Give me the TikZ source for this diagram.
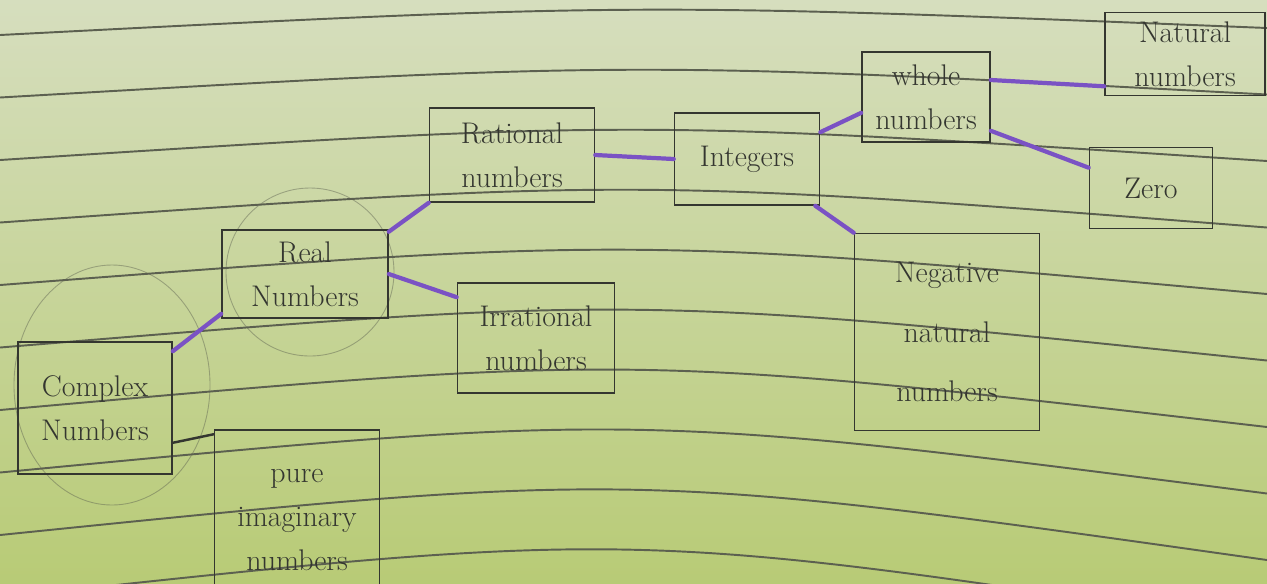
\documentclass[tikz,border=0pt]{standalone}
\usepackage{tikz}
\usetikzlibrary{positioning, calc}
\usepackage{xcolor}
\definecolor{pgTop}   {RGB}{214, 222, 190}
\definecolor{pgLow}   {RGB}{184, 203, 118}
\definecolor{pgRule}  {RGB}{92,  96,  80}
\definecolor{penDark} {RGB}{52,  54,  48}
\definecolor{penPurp} {RGB}{122, 82,  196}

\begin{document}
\begin{tikzpicture}[
  x=0.02cm, y=-0.02cm,
  box/.style = {
    rectangle, draw=penDark, line width=0.9pt,
    align=center, text=penDark,
    font=\fontsize{17}{25}\selectfont
  },
  link/.style = {line width=2.4pt, penPurp, line cap=round},
  rule/.style = {line width=1.1pt, pgRule},
  pencil/.style = {line width=0.5pt, pgRule, opacity=0.45}
]
  % paper
  \shade[top color=pgTop, bottom color=pgLow] (0,0) rectangle (1267,583);
  \useasboundingbox (0,0) rectangle (1267,583);
  \clip (0,0) rectangle (1267,583);
  \foreach \i in {0,...,9}
    \draw[rule] (0,{35+62.5*\i}) .. controls (633.5,{2.5+58.5*\i}) .. (1267,{28+66.5*\i});

  % faint pencil rings
  \draw[pencil] (112,385) ellipse [x radius=98, y radius=120];
  \draw[pencil] (310,272) circle [radius=84];

  % boxes
  \node[box, minimum width=3.08cm, minimum height=2.64cm] (cx) at (95,408) {Complex\\Numbers};
  \node[box, minimum width=3.32cm, minimum height=1.76cm] (re) at (305,274) {Real\\Numbers};
  \node[box, minimum width=3.14cm, minimum height=2.2cm] (ir) at (536,338) {Irrational\\numbers};
  \node[box, minimum width=3.3cm,  minimum height=3.6cm] (pi) at (297,520) {pure\\imaginary\\numbers};
  \node[box, minimum width=3.3cm,  minimum height=1.88cm] (ra) at (512,155) {Rational\\numbers};
  \node[box, minimum width=2.9cm,  minimum height=1.84cm] (ig) at (747,159) {Integers};
  \node[box, minimum width=2.56cm, minimum height=1.8cm] (wh) at (926,97)  {whole\\numbers};
  \node[box, minimum width=3.2cm,  minimum height=1.66cm] (na) at (1185,54) {Natural\\numbers};
  \node[box, minimum width=2.46cm, minimum height=1.62cm] (ze) at (1151,188) {Zero};
  \node[box, minimum width=3.7cm,  minimum height=3.94cm,
        font=\fontsize{17}{34}\selectfont] (ng) at (947,332) {Negative\\natural\\numbers};

  % links
  \draw[link] ([yshift=-0.2cm]cx.north east) -- ([yshift=0.1cm]re.south west);
  \draw[link, penDark, line width=1.4pt] ([yshift=0.64cm]cx.south east) -- ([yshift=-0.1cm]pi.north west);
  \draw[link] ([yshift=-0.05cm]re.north east) -- (ra.south west);
  \draw[link] (re.east) -- ([yshift=-0.3cm]ir.north west);
  \draw[link] (ra.east) -- (ig.west);
  \draw[link] ([yshift=-0.4cm]ig.north east) -- ([yshift=0.6cm]wh.south west);
  \draw[link] ([xshift=-0.1cm]ig.south east) -- (ng.north west);
  \draw[link] ([yshift=0.34cm]wh.east) -- ([yshift=0.2cm]na.south west);
  \draw[link] ([yshift=0.24cm]wh.south east) -- ([yshift=-0.42cm]ze.north west);
\end{tikzpicture}
\end{document}
